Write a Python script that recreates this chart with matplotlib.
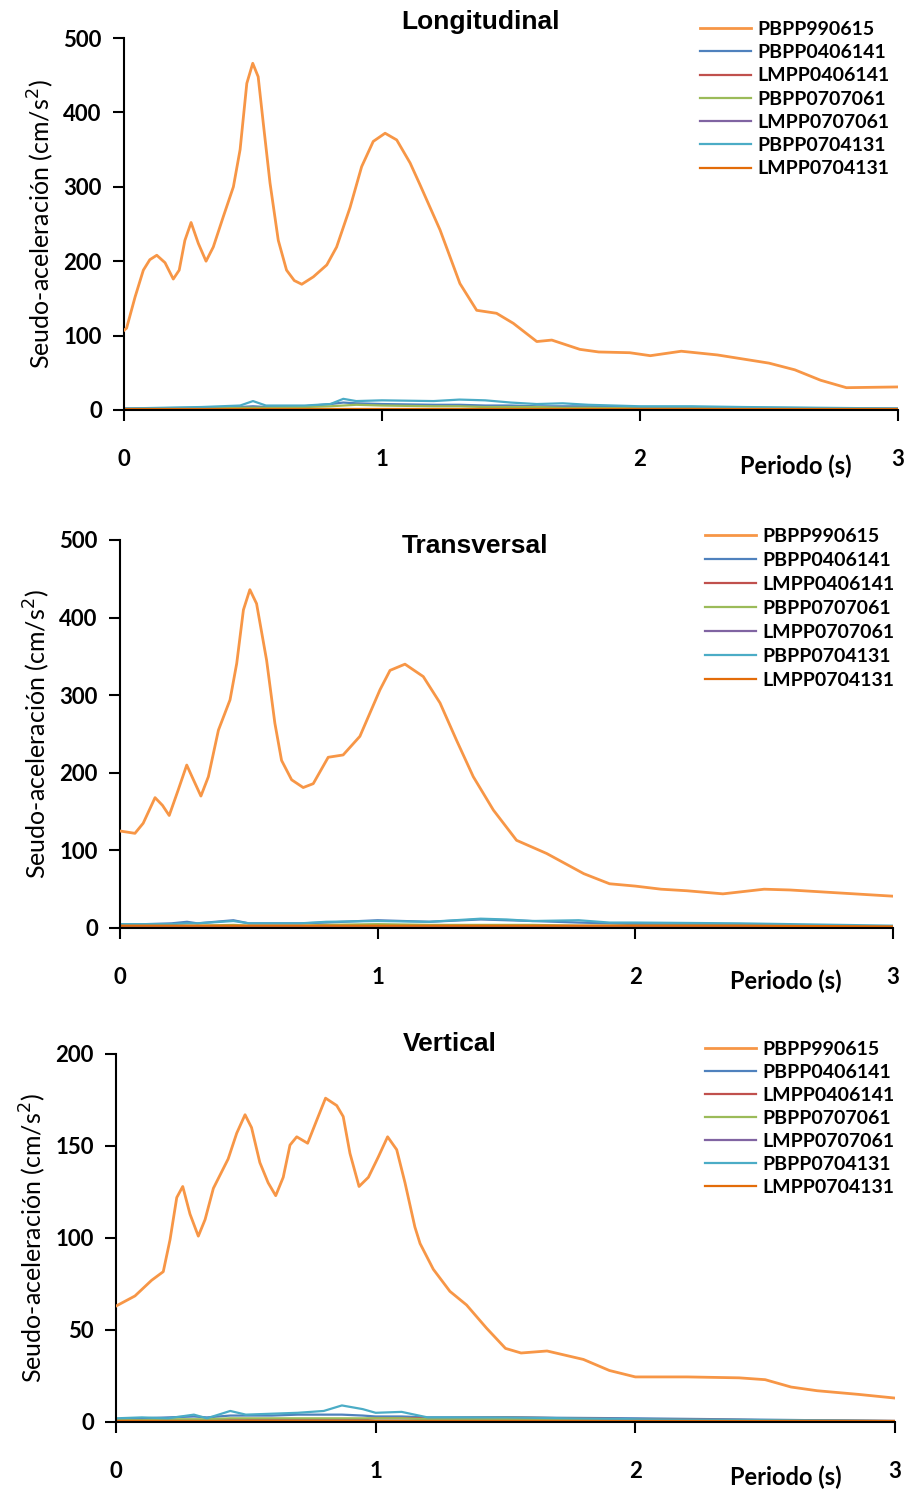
import matplotlib
matplotlib.use('Agg')
import matplotlib.pyplot as plt

plt.rcParams['font.family'] = ['Lato', 'DejaVu Sans']

labels = ['PBPP990615', 'PBPP0406141', 'LMPP0406141', 'PBPP0707061',
          'LMPP0707061', 'PBPP0704131', 'LMPP0704131']
colors = ['#F79646', '#4F81BD', '#C0504D', '#9BBB59', '#8064A2', '#4BACC6', '#E36C09']

# ---- Longitudinal ----
lon_t = [0.0, 0.01, 0.043, 0.075, 0.1, 0.127, 0.159, 0.191, 0.214, 0.236, 0.26, 0.288,
         0.318, 0.346, 0.385, 0.424, 0.45, 0.476, 0.499, 0.52, 0.54, 0.566, 0.598,
         0.63, 0.66, 0.689, 0.734, 0.786, 0.824, 0.876, 0.921, 0.966, 1.012, 1.057,
         1.109, 1.147, 1.225, 1.302, 1.367, 1.444, 1.509, 1.6, 1.658, 1.767, 1.84,
         1.96, 2.04, 2.16, 2.3, 2.5, 2.6, 2.7, 2.8, 3.0]
lon_main = [107, 110, 152, 188, 202, 208, 198, 176, 188, 228, 252, 224,
            200, 219, 260, 300, 350, 439, 466, 448, 385, 305, 228,
            188, 174, 169, 179, 195, 219, 272, 327, 361, 372, 363,
            332, 303, 242, 170, 134, 130, 116.5, 92, 94, 81.5, 78,
            77, 73, 79, 74, 63, 54, 40, 30, 31]
lon_ts = [0, 0.3, 0.45, 0.5, 0.55, 0.7, 0.8, 0.85, 0.9, 1.0, 1.2, 1.3, 1.4, 1.5,
          1.6, 1.7, 1.8, 2.0, 2.2, 2.4, 3.0]
lon_pb0406 = [2, 3, 4, 5, 4, 5, 8, 10, 9, 8, 7, 7, 6, 6, 5, 5, 5, 4, 4, 3, 2]
lon_lm0406 = [1, 1, 1, 1, 1, 1, 1, 1, 1, 1, 1, 1, 1, 1, 1, 1, 1, 1, 1, 1, 0.5]
lon_pb0707 = [1, 2, 3, 3, 3, 4, 5, 6, 7, 6, 5, 5, 4, 4, 4, 3, 3, 2, 2, 2, 1]
lon_lm0707 = [0.5] * 21
lon_pb0704 = [2, 4, 6, 12, 6, 6, 8, 15, 12, 13, 12, 14, 13, 10, 8, 9, 7, 5, 5, 4, 2]
lon_lm0704 = [1] * 21

# ---- Transversal ----
tra_t = [0.0, 0.058, 0.09, 0.136, 0.165, 0.191, 0.226, 0.259, 0.285, 0.314, 0.343,
         0.382, 0.427, 0.453, 0.479, 0.504, 0.53, 0.569, 0.601, 0.627, 0.666, 0.711,
         0.75, 0.808, 0.866, 0.931, 1.009, 1.048, 1.106, 1.177, 1.242, 1.306, 1.371,
         1.449, 1.539, 1.656, 1.8, 1.9, 2.0, 2.1, 2.2, 2.34, 2.5, 2.6, 2.8, 3.0]
tra_main = [125, 122, 135, 168, 158, 145, 178, 210, 191, 170, 195,
            255, 294, 341, 410, 436, 418, 345, 264, 216, 191, 181,
            186, 220, 223, 247, 307, 332, 340, 324, 290, 242, 195,
            152, 113, 96, 70, 57, 54, 50, 48, 44, 50, 49, 45, 41]
tra_ts = [0, 0.2, 0.26, 0.3, 0.44, 0.5, 0.7, 0.8, 1.0, 1.2, 1.4, 1.5, 1.6, 1.78,
          1.9, 2.0, 2.4, 3.0]
tra_pb0406 = [4, 6, 8, 6, 10, 6, 6, 7, 10, 8, 11, 10, 9, 7, 6, 5, 4, 2]
tra_lm0406 = [2, 2, 2, 2, 2, 2, 2, 2, 2, 2, 2, 2, 2, 2, 2, 2, 2, 1]
tra_pb0707 = [3, 3, 3, 3, 4, 3, 3, 4, 5, 4, 4, 4, 4, 3, 3, 3, 3, 2]
tra_lm0707 = [1] * 18
tra_pb0704 = [5, 5, 6, 6, 9, 6, 6, 8, 9, 8, 12, 11, 9, 10, 7, 7, 6, 3]
tra_lm0704 = [3, 3, 3, 3, 3, 3, 3, 3, 3, 3, 3, 3, 3, 3, 3, 3, 3, 2]

# ---- Vertical ----
ver_t = [0.0, 0.073, 0.137, 0.182, 0.208, 0.234, 0.257, 0.285, 0.317, 0.343, 0.375,
         0.432, 0.465, 0.497, 0.522, 0.554, 0.586, 0.615, 0.644, 0.67, 0.696, 0.738,
         0.773, 0.807, 0.85, 0.875, 0.901, 0.936, 0.972, 1.01, 1.046, 1.081, 1.113,
         1.151, 1.171, 1.222, 1.286, 1.35, 1.427, 1.5, 1.56, 1.66, 1.8, 1.9, 2.0,
         2.2, 2.4, 2.5, 2.6, 2.7, 2.86, 3.0]
ver_main = [63, 68.5, 77, 81.7, 99, 122, 128, 113, 101, 110, 127,
            143, 157, 167, 160, 141, 130, 123, 133, 150.5, 155, 151.5,
            164, 176, 172, 166, 146, 128, 133, 144, 155, 148, 130,
            106, 97, 83, 71, 63.6, 51, 40, 37.5, 38.6, 34, 28, 24.5,
            24.5, 24, 23, 19, 17, 15, 13]
ver_ts = [0, 0.1, 0.2, 0.3, 0.35, 0.44, 0.5, 0.6, 0.7, 0.8, 0.87, 0.95, 1.0, 1.1,
          1.2, 1.5, 2.0, 3.0]
ver_pb0406 = [1.5, 2, 2.5, 3, 2.5, 3.5, 3.5, 3.5, 4, 4, 4, 3.5, 3, 3, 2.5, 2.5, 2, 0.5]
ver_lm0406 = [1, 1, 1, 1, 1, 1, 1, 1.5, 1.5, 1.5, 1.5, 1.5, 2, 2, 2, 2.5, 1.5, 0.5]
ver_pb0707 = [1, 1, 1.5, 1.5, 1.5, 2, 2, 2, 2, 2, 2, 2, 2, 2, 1.5, 1.5, 1, 0.5]
ver_lm0707 = [0.8] * 18
ver_pb0704 = [2, 2.5, 2, 4, 2, 6, 4, 4.5, 5, 6, 9, 7, 5, 5.5, 2.5, 2.5, 1.5, 0.5]
ver_lm0704 = [0.5] * 18

panels = [
    dict(title='Longitudinal', ymax=500, yticks=[0, 100, 200, 300, 400, 500],
         t=lon_t, main=lon_main, ts=lon_ts,
         small=[lon_pb0406, lon_lm0406, lon_pb0707, lon_lm0707, lon_pb0704, lon_lm0704],
         rect=[124, 38, 898, 410], title_xy=(480, 22), leg_xy=(700, 21),
         per_xy=(796, 466), spacing=0.32),
    dict(title='Transversal', ymax=500, yticks=[0, 100, 200, 300, 400, 500],
         t=tra_t, main=tra_main, ts=tra_ts,
         small=[tra_pb0406, tra_lm0406, tra_pb0707, tra_lm0707, tra_pb0704, tra_lm0704],
         rect=[120, 540, 893, 928], title_xy=(475, 546), leg_xy=(705, 528),
         per_xy=(786, 981), spacing=0.36),
    dict(title='Vertical', ymax=200, yticks=[0, 50, 100, 150, 200],
         t=ver_t, main=ver_main, ts=ver_ts,
         small=[ver_pb0406, ver_lm0406, ver_pb0707, ver_lm0707, ver_pb0704, ver_lm0704],
         rect=[116, 1054, 895, 1422], title_xy=(450, 1044), leg_xy=(705, 1041),
         per_xy=(786, 1477), spacing=0.31),
]

W, H = 907, 1492
fig = plt.figure(figsize=(W / 100, H / 100), dpi=100)

for p in panels:
    x0, y0, x1, y1 = p['rect']
    ax = fig.add_axes([x0 / W, 1 - y1 / H, (x1 - x0) / W, (y1 - y0) / H])
    lines = []
    ln, = ax.plot(p['t'], p['main'], color=colors[0], lw=2.0, label=labels[0],
                  solid_joinstyle='round', zorder=5)
    lines.append(ln)
    for vals, c, lab in zip(p['small'], colors[1:], labels[1:]):
        ln, = ax.plot(p['ts'], vals, color=c, lw=1.6, label=lab, solid_joinstyle='round')
        lines.append(ln)
    ax.set_xlim(0, 3)
    ax.set_ylim(0, p['ymax'])
    ax.set_xticks([0, 1, 2, 3])
    ax.set_yticks(p['yticks'])
    for s in ['top', 'right']:
        ax.spines[s].set_visible(False)
    for s in ['left', 'bottom']:
        ax.spines[s].set_linewidth(1.5)
    ax.tick_params(axis='both', direction='out', length=8, width=1.5,
                   labelsize=16)
    ax.tick_params(axis='x', pad=20)
    ax.tick_params(axis='y', pad=8)
    for lbl in ax.get_xticklabels() + ax.get_yticklabels():
        lbl.set_fontweight('bold')
    ax.set_ylabel('Seudo-aceleración (cm/s$^2$)', fontsize=18, labelpad=5)
    fig.text(p['title_xy'][0] / W, 1 - p['title_xy'][1] / H, p['title'],
             ha='center', va='center', fontsize=19, fontweight='bold',
             family='Liberation Sans')
    fig.text(p['per_xy'][0] / W, 1 - p['per_xy'][1] / H, 'Periodo (s)',
             ha='center', va='center', fontsize=17, fontweight='bold')
    fig.legend(handles=lines, loc='upper left',
               bbox_to_anchor=(p['leg_xy'][0] / W, 1 - p['leg_xy'][1] / H),
               frameon=False, handlelength=2.6, handletextpad=0.36,
               labelspacing=p['spacing'], borderpad=0, borderaxespad=0,
               prop={'weight': 'bold', 'size': 14})

fig.savefig('out.png', dpi=100)
